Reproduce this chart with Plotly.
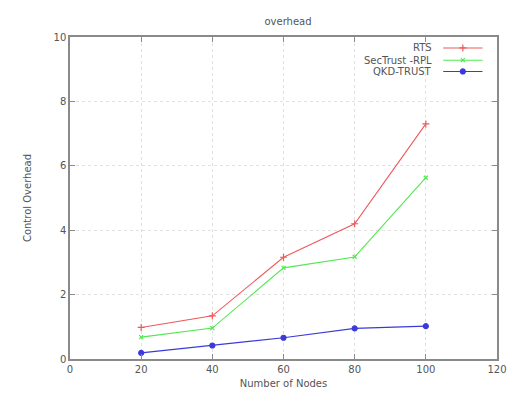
import plotly.graph_objects as go

nodes = [20, 40, 60, 80, 100]
rts = [0.98, 1.34, 3.16, 4.2, 7.3]
sectrust = [0.68, 0.96, 2.83, 3.17, 5.63]
qkd = [0.19, 0.42, 0.66, 0.95, 1.02]

names = ["RTS", "SecTrust -RPL", "QKD-TRUST"]
colors = ["#ec5a5c", "#52e852", "#3a3adc"]
symbols = ["cross-thin-open", "x-thin-open", "circle"]
sizes = [5, 4, 5]
series = [rts, sectrust, qkd]

fig = go.Figure()
for nm, col, sym, sz, ys in zip(names, colors, symbols, sizes, series):
    fig.add_trace(go.Scatter(
        x=nodes, y=ys, mode="lines+markers", name=nm,
        line=dict(color=col, width=1.1),
        marker=dict(symbol=sym, size=sz, color=col, line=dict(color=col, width=1.2)),
        showlegend=False,
    ))

# custom gnuplot-style legend (text right-aligned, sample to its right)
leg_y = [0.966, 0.928, 0.893]
for nm, col, sym, sz, yy in zip(names, colors, symbols, sizes, leg_y):
    fig.add_annotation(x=0.852, y=yy, xref="paper", yref="paper", text=nm,
                       showarrow=False, xanchor="right", yanchor="middle",
                       font=dict(family="DejaVu Sans", size=10, color="#555"))
    fig.add_trace(go.Scatter(x=[0.874, 0.966], y=[yy, yy], xaxis="x2", yaxis="y2",
                             mode="lines", line=dict(color=col, width=1.1),
                             showlegend=False, hoverinfo="skip"))
    fig.add_trace(go.Scatter(x=[0.920], y=[yy], xaxis="x2", yaxis="y2", mode="markers",
                             marker=dict(symbol=sym, size=sz, color=col, line=dict(color=col, width=1.2)),
                             showlegend=False, hoverinfo="skip"))

axis_common = dict(
    showline=True, linecolor="#8a8a8a", linewidth=1.5, mirror="allticks",
    ticks="inside", ticklen=5, tickcolor="#8a8a8a",
    showgrid=True, gridcolor="#e0e0e0", griddash="dot", gridwidth=1,
    zeroline=False, tickfont=dict(family="DejaVu Sans", size=10, color="#555"),
)

fig.update_layout(
    width=518, height=399,
    margin=dict(l=70, r=11, t=37, b=37),
    paper_bgcolor="white", plot_bgcolor="white",
    title=dict(text="overhead", x=0.556, xanchor="center", y=0.947, yanchor="middle",
               font=dict(family="DejaVu Sans", size=10, color="#555")),
    xaxis=dict(range=[0, 120], tickvals=[0, 20, 40, 60, 80, 100, 120],
               title=dict(text="Number of Nodes", standoff=6,
                          font=dict(family="DejaVu Sans", size=10, color="#555")),
               **axis_common),
    yaxis=dict(range=[0, 10], tickvals=[0, 2, 4, 6, 8, 10],
               title=dict(text="Control Overhead", standoff=20,
                          font=dict(family="DejaVu Sans", size=10, color="#555")),
               **axis_common),
    xaxis2=dict(range=[0, 1], overlaying="x", visible=False, fixedrange=True),
    yaxis2=dict(range=[0, 1], overlaying="y", visible=False, fixedrange=True),
)

fig.write_html("out.html")
